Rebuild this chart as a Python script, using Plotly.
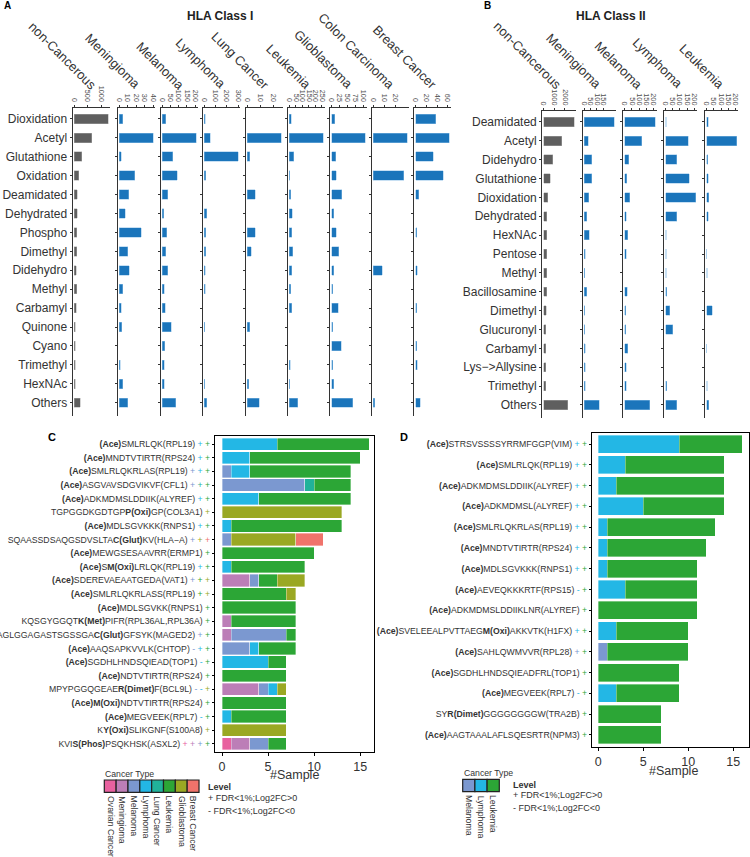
import plotly.graph_objects as go

W, H = 750, 857
FONT = "Liberation Sans, Arial, Helvetica, sans-serif"
TXT = "#333333"

# ---------------- Panel A data (HLA Class I) ----------------
A_panels = ["non-Cancerous", "Meningioma", "Melanoma", "Lymphoma", "Lung Cancer",
            "Leukemia", "Glioblastoma", "Colon Carcinoma", "Breast Cancer"]
A_mods = ["Dioxidation", "Acetyl", "Glutathione", "Oxidation", "Deamidated", "Dehydrated",
          "Phospho", "Dimethyl", "Didehydro", "Methyl", "Carbamyl", "Quinone", "Cyano",
          "Trimethyl", "HexNAc", "Others"]
A_noncancer = [1250, 640, 280, 170, 100, 110, 85, 85, 60, 90, 70, 40, 30, 35, 30, 220]
A_meningioma = [4, 40, 2, 18, 11, 7, 26, 10, 12, 4, 2, 3, 0, 1, 4, 10]
A_melanoma = [20, 205, 64, 92, 33, 7, 27, 21, 33, 10, 18, 55, 14, 10, 10, 82]
A_lymphoma = [8, 54, 300, 14, 0, 20, 11, 11, 8, 6, 0, 5, 0, 0, 5, 23]
A_lung = [0, 26, 2, 0, 6, 0, 6, 3, 0, 0, 0, 2, 0, 0, 1, 9]
A_leukemia = [15, 258, 35, 4, 10, 22, 20, 27, 17, 9, 20, 0, 0, 7, 3, 66]
A_glioblastoma = [10, 105, 12, 15, 32, 6, 15, 22, 6, 3, 21, 4, 30, 4, 6, 66]
A_colon = [0, 30, 0, 27, 0, 0, 0, 0, 8, 0, 0, 0, 0, 0, 0, 1]
A_breast = [38, 63, 33, 52, 6, 0, 2, 0, 3, 0, 2, 0, 2, 3, 0, 9]
A_ticks = [[0, 500, 1000], [0, 10, 20, 30, 40], [0, 50, 100, 150, 200], [0, 100, 200, 300],
           [0, 10, 20], [0, 50, 100, 150, 200, 250], [0, 25, 50, 75, 100], [0, 10, 20],
           [0, 20, 40, 60]]

# ---------------- Panel B data (HLA Class II) ----------------
B_panels = ["non-Cancerous", "Meningioma", "Melanoma", "Lymphoma", "Leukemia"]
B_mods = ["Deamidated", "Acetyl", "Didehydro", "Glutathione", "Dioxidation", "Dehydrated",
          "HexNAc", "Pentose", "Methyl", "Bacillosamine", "Dimethyl", "Glucuronyl",
          "Carbamyl", "Lys\u2212>Allysine", "Trimethyl", "Others"]
B_noncancer = [2870, 1690, 860, 620, 355, 300, 300, 280, 280, 260, 210, 200, 200, 190, 180, 2280]
B_meningioma = [238, 33, 59, 59, 36, 18, 38, 10, 5, 18, 5, 5, 10, 8, 10, 120]
B_melanoma = [213, 118, 27, 13, 36, 11, 20, 9, 0, 16, 7, 7, 22, 9, 9, 176]
B_lymphoma = [5, 158, 80, 164, 211, 80, 4, 4, 4, 7, 31, 49, 0, 0, 9, 78]
B_leukemia = [11, 209, 9, 13, 16, 13, 0, 2, 6, 0, 38, 0, 2, 0, 6, 16]
B_ticks = [[0, 1000, 2000], [0, 50, 100, 150], [0, 50, 100, 150, 200],
           [0, 50, 100, 150, 200], [0, 50, 100, 150, 200]]

# ---------------- Cancer type colours ----------------
CT_names = ["Ovarian Cancer", "Meningioma", "Melanoma", "Lymphoma", "Lung Cancer",
            "Leukemia", "Glioblastoma", "Breast Cancer"]
CT_colors = ["#E8619F", "#BC7EB7", "#7B98D0", "#23B7E5", "#21B29A",
             "#2CA636", "#9AA823", "#F0736B"]

# ---------------- Panel C data ----------------
C_peptides = [
    "<b>(Ace)</b>SMLRLQK(RPL19)",
    "<b>(Ace)</b>MNDTVTIRTR(RPS24)",
    "<b>(Ace)</b>SMLRLQKRLAS(RPL19)",
    "<b>(Ace)</b>ASGVAVSDGVIKVF(CFL1)",
    "<b>(Ace)</b>ADKMDMSLDDIIK(ALYREF)",
    "TGPGGDKGDTGP<b>P(Oxi)</b>GP(COL3A1)",
    "<b>(Ace)</b>MDLSGVKKK(RNPS1)",
    "SQAASSDSAQGSDVSLTA<b>C(Glut)</b>KV(HLA\u2212A)",
    "<b>(Ace)</b>MEWGSESAAVRR(ERMP1)",
    "<b>(Ace)</b>S<b>M(Oxi)</b>LRLQK(RPL19)",
    "<b>(Ace)</b>SDEREVAEAATGEDA(VAT1)",
    "<b>(Ace)</b>SMLRLQKRLASS(RPL19)",
    "<b>(Ace)</b>MDLSGVKK(RNPS1)",
    "KQSGYGGQT<b>K(Met)</b>PIFR(RPL36AL,RPL36A)",
    "AGLGGAGASTSGSSGA<b>C(Glut)</b>GFSYK(MAGED2)",
    "<b>(Ace)</b>AAQSAPKVVLK(CHTOP)",
    "<b>(Ace)</b>SGDHLHNDSQIEAD(TOP1)",
    "<b>(Ace)</b>NDTVTIRTR(RPS24)",
    "MPYPGGQGEAE<b>R(Dimet)</b>F(BCL9L)",
    "<b>(Ace)M(Oxi)</b>NDTVTIRTR(RPS24)",
    "<b>(Ace)</b>MEGVEEK(RPL7)",
    "K<b>Y(Oxi)</b>SLIKGNF(S100A8)",
    "KVI<b>S(Phos)</b>PSQKHSK(ASXL2)",
]
C_ovarian = [0, 0, 0, 0, 0, 0, 0, 0, 0, 0, 0, 0, 0, 0, 0, 0, 0, 0, 0, 0, 0, 0, 1]
C_meningioma = [0, 0, 0, 0, 0, 0, 0, 0, 0, 0, 3, 0, 0, 1, 1, 0, 0, 0, 4, 0, 0, 0, 2]
C_melanoma = [0, 0, 1, 9, 0, 0, 0, 1, 0, 0, 1, 0, 0, 0, 6, 3, 0, 0, 1, 0, 0, 0, 2]
C_lymphoma = [6, 3, 2, 0, 4, 0, 1, 0, 0, 1, 0, 0, 0, 0, 0, 1, 5, 0, 1, 0, 1, 0, 0]
C_lung = [0, 0, 0, 1, 0, 0, 0, 0, 0, 0, 0, 0, 0, 0, 0, 0, 0, 0, 0, 0, 0, 0, 0]
C_leukemia = [10, 12, 11, 4, 10, 0, 12, 0, 10, 8, 2, 7, 8, 7, 1, 4, 2, 7, 0, 7, 6, 0, 2]
C_glioblastoma = [0, 0, 0, 0, 0, 13, 0, 7, 0, 0, 3, 1, 0, 0, 0, 0, 0, 0, 1, 0, 0, 7, 0]
C_breast = [0, 0, 0, 0, 0, 0, 0, 3, 0, 0, 0, 0, 0, 0, 0, 0, 0, 0, 0, 0, 0, 0, 0]
C_levels = [
    [("Lymphoma", "+"), ("Leukemia", "+")],
    [("Lymphoma", "+"), ("Leukemia", "+")],
    [("Melanoma", "+"), ("Lymphoma", "+"), ("Leukemia", "+")],
    [("Melanoma", "+"), ("Lung Cancer", "+"), ("Leukemia", "+")],
    [("Lymphoma", "+"), ("Leukemia", "+")],
    [("Glioblastoma", "+")],
    [("Lymphoma", "+"), ("Leukemia", "+")],
    [("Melanoma", "+"), ("Glioblastoma", "+"), ("Breast Cancer", "+")],
    [("Leukemia", "+")],
    [("Lymphoma", "+"), ("Leukemia", "+")],
    [("Melanoma", "+"), ("Leukemia", "+"), ("Glioblastoma", "+")],
    [("Leukemia", "+"), ("Glioblastoma", "+")],
    [("Leukemia", "+")],
    [("Leukemia", "+")],
    [("Melanoma", "+"), ("Leukemia", "+")],
    [("Melanoma", "-"), ("Lymphoma", "+"), ("Leukemia", "+")],
    [("Lymphoma", "-"), ("Leukemia", "+")],
    [("Leukemia", "+")],
    [("Melanoma", "-"), ("Lymphoma", "-"), ("Glioblastoma", "+")],
    [("Leukemia", "+")],
    [("Lymphoma", "-"), ("Leukemia", "+")],
    [("Glioblastoma", "+")],
    [("Ovarian Cancer", "+"), ("Meningioma", "+"), ("Melanoma", "+"), ("Leukemia", "+")],
]

# ---------------- Panel D data ----------------
D_peptides = [
    "<b>(Ace)</b>STRSVSSSSYRRMFGGP(VIM)",
    "<b>(Ace)</b>SMLRLQK(RPL19)",
    "<b>(Ace)</b>ADKMDMSLDDIIK(ALYREF)",
    "<b>(Ace)</b>ADKMDMSL(ALYREF)",
    "<b>(Ace)</b>SMLRLQKRLAS(RPL19)",
    "<b>(Ace)</b>MNDTVTIRTR(RPS24)",
    "<b>(Ace)</b>MDLSGVKKK(RNPS1)",
    "<b>(Ace)</b>AEVEQKKKRTF(RPS15)",
    "<b>(Ace)</b>ADKMDMSLDDIIKLNR(ALYREF)",
    "<b>(Ace)</b>SVELEEALPVTTAEG<b>M(Oxi)</b>AKKVTK(H1FX)",
    "<b>(Ace)</b>SAHLQWMVVR(RPL28)",
    "<b>(Ace)</b>SGDHLHNDSQIEADFRL(TOP1)",
    "<b>(Ace)</b>MEGVEEK(RPL7)",
    "SY<b>R(Dimet)</b>GGGGGGGGW(TRA2B)",
    "<b>(Ace)</b>AAGTAAALAFLSQESRTR(NPM3)",
]
D_types = ["Melanoma", "Lymphoma", "Leukemia"]
D_melanoma = [0, 0, 0, 0, 0, 0, 0, 0, 0, 0, 1, 0, 0, 0, 0]
D_lymphoma = [9, 3, 2, 5, 1, 1, 1, 3, 0, 2, 0, 0, 2, 0, 0]
D_leukemia = [7, 11, 12, 9, 12, 11, 10, 8, 11, 8, 9, 9, 7, 7, 7]
D_levels = [
    [("Lymphoma", "+"), ("Leukemia", "+")],
    [("Lymphoma", "+"), ("Leukemia", "+")],
    [("Lymphoma", "+"), ("Leukemia", "+")],
    [("Lymphoma", "+"), ("Leukemia", "+")],
    [("Lymphoma", "+"), ("Leukemia", "+")],
    [("Lymphoma", "+"), ("Leukemia", "+")],
    [("Lymphoma", "+"), ("Leukemia", "+")],
    [("Lymphoma", "-"), ("Leukemia", "+")],
    [("Leukemia", "+")],
    [("Lymphoma", "+"), ("Leukemia", "+")],
    [("Melanoma", "+"), ("Leukemia", "+")],
    [("Leukemia", "+")],
    [("Lymphoma", "-"), ("Leukemia", "+")],
    [("Leukemia", "+")],
    [("Leukemia", "+")],
]

# ---------------- styling ----------------
BLUE = "#1B75BB"
GREY = "#5F5F5F"
color_of = dict(zip(CT_names, CT_colors))

fig = go.Figure()
lay = dict(template="none", width=W, height=H,
           margin=dict(l=0, r=0, t=0, b=0, pad=0, autoexpand=False),
           paper_bgcolor="white", plot_bgcolor="rgba(0,0,0,0)",
           showlegend=False, barmode="stack",
           font=dict(family=FONT, color=TXT))
annotations = []
shapes = []
count = [0]


def new_axes(x0, x1, ytop, ybot, xkw, ykw):
    count[0] += 1
    k = count[0]
    s = "" if k == 1 else str(k)
    lay["xaxis" + s] = dict(domain=[x0 / W, x1 / W], anchor="y" + s, automargin=False, **xkw)
    lay["yaxis" + s] = dict(domain=[1 - ybot / H, 1 - ytop / H], anchor="x" + s,
                            automargin=False, **ykw)
    return "x" + s, "y" + s


def nz(vals):
    return [v if v > 0 else None for v in vals]


def ann(x, y, text, size, **kw):
    d = dict(x=x / W, y=1 - y / H, xref="paper", yref="paper", text=text,
             showarrow=False, xanchor="center", yanchor="middle",
             font=dict(size=size, color=kw.pop("color", TXT), family=FONT))
    d.update(kw)
    annotations.append(d)


def small_multiples(panels, mods, vals_list, ticks_list, lefts, width, ytop, ybot, yrange, name_dx):
    for i, (name, vals, ticks) in enumerate(zip(panels, vals_list, ticks_list)):
        M = max(vals)
        x0 = lefts[i]
        xa, ya = new_axes(
            x0, x0 + width, ytop, ybot,
            dict(range=[-0.05 * M, 1.05 * M], side="top", showline=True, linecolor="#333",
                 linewidth=1, ticks="outside", ticklen=2, tickcolor="#333", tickvals=ticks,
                 tickangle=90, tickfont=dict(size=7.3, color="#4d4d4d"), showgrid=False,
                 zeroline=False),
            dict(type="category", categoryorder="array", categoryarray=mods, range=yrange,
                 showline=True, linecolor="#333", linewidth=1.3, ticks="outside", ticklen=2,
                 tickcolor="#333", showticklabels=(i == 0), tickfont=dict(size=12, color=TXT),
                 showgrid=False, zeroline=False))
        col = GREY if i == 0 else BLUE
        edge = "rgba(170,170,170,0.6)" if i == 0 else "rgba(140,190,230,0.6)"
        fig.add_trace(go.Bar(x=nz(vals), y=mods, orientation="h", width=0.5,
                             marker=dict(color=col, line=dict(color=edge, width=0.8)),
                             xaxis=xa, yaxis=ya, hoverinfo="skip"))
        ann(x0 + name_dx, 95, name, 13, textangle=45, xanchor="right", yanchor="bottom")


# Panel A
small_multiples(A_panels, A_mods,
                [A_noncancer, A_meningioma, A_melanoma, A_lymphoma, A_lung, A_leukemia,
                 A_glioblastoma, A_colon, A_breast],
                A_ticks, [72.7, 117.7, 160.7, 202.7, 245.7, 287.7, 330.0, 371.7, 414.0], 37,
                107.5, 416, [15.7, -0.6], 29)
# Panel B
small_multiples(B_panels, B_mods,
                [B_noncancer, B_meningioma, B_melanoma, B_lymphoma, B_leukemia],
                B_ticks, [542.3, 582.7, 623.3, 664.0, 705.0], 33.3,
                111, 418, [15.69, -0.58], 25)


def level_text(label, levels):
    signs = " ".join('<span style="color:%s">%s</span>' % (color_of[t], s) for t, s in levels)
    return label + " " + signs


def stacked_panel(peptides, series, types, levels, x0, x1, ytop, ybot, xrange, yrange,
                  fsize, width):
    xa, ya = new_axes(
        x0, x1, ytop, ybot,
        dict(range=xrange, showline=True, mirror=True, linecolor="black", linewidth=1.3,
             ticks="outside", ticklen=3, tickcolor="black", tickvals=[0, 5, 10, 15],
             tickfont=dict(size=12.5, color=TXT), showgrid=False, zeroline=False),
        dict(type="category", categoryorder="array", categoryarray=peptides, range=yrange,
             showline=True, mirror=True, linecolor="black", linewidth=1.3, ticks="outside",
             ticklen=2, tickcolor="black", tickvals=peptides,
             ticktext=[level_text(p, l) for p, l in zip(peptides, levels)],
             tickfont=dict(size=fsize, color=TXT), showgrid=False, zeroline=False))
    for t, vals in zip(types, series):
        fig.add_trace(go.Bar(x=nz(vals), y=peptides, orientation="h", width=width,
                             marker=dict(color=color_of[t],
                                         line=dict(color="rgba(255,255,255,0.45)", width=0.8)),
                             xaxis=xa, yaxis=ya, hoverinfo="skip", name=t))


# Panel C
stacked_panel(C_peptides,
              [C_ovarian, C_meningioma, C_melanoma, C_lymphoma, C_lung, C_leukemia,
               C_glioblastoma, C_breast],
              CT_names, C_levels, 215, 374, 436, 752, [-0.76, 16.5], [22.6, -0.6], 8.7, 0.9)
# Panel D
stacked_panel(D_peptides, [D_melanoma, D_lymphoma, D_leukemia], D_types, D_levels,
              592, 749, 432.7, 747.3, [-0.7, 16.75], [14.6, -0.55], 8.7, 0.87)

# axis titles
ann(294, 775, "#Sample", 12.5)
ann(673, 771, "#Sample", 12.5)

# titles and panel letters
ann(220, 16, "<b>HLA Class I</b>", 12, color="#222")
ann(611, 16, "<b>HLA Class II</b>", 12, color="#222")
ann(7, 6, "<b>A</b>", 10, color="black")
ann(487, 6, "<b>B</b>", 10, color="black")
ann(52, 437, "<b>C</b>", 11, color="black")
ann(404, 437, "<b>D</b>", 11, color="black")


# legends
def legend(names, left, box_w, top, bottom, title_y, lvl_x, lvl_y, plus_y, minus_y):
    ann(left - 1, title_y, "Cancer Type", 8.7, xanchor="left")
    for i, nm in enumerate(names):
        xl = left + i * box_w
        shapes.append(dict(type="rect", xref="paper", yref="paper",
                           x0=xl / W, x1=(xl + box_w) / W, y0=1 - bottom / H, y1=1 - top / H,
                           fillcolor=color_of[nm], line=dict(color="#222", width=1.2)))
        ann(xl + box_w / 2, bottom + 1.5, nm, 8.7, textangle=90, xanchor="center",
            yanchor="top")
    ann(lvl_x, lvl_y, "<b>Level</b>", 9, xanchor="left")
    ann(lvl_x, plus_y, "+ FDR&lt;1%;Log2FC&gt;0", 9, xanchor="left")
    ann(lvl_x, minus_y, "- FDR&lt;1%;Log2FC&lt;0", 9, xanchor="left")


legend(CT_names, 104.3, 11.84, 780, 792.3, 774, 206, 787, 797.7, 810.7)
legend(D_types, 462.7, 12.2, 779.3, 791.7, 772.7, 511, 785, 795, 807.7)

lay["annotations"] = annotations
lay["shapes"] = shapes
fig.update_layout(**lay)
fig.write_html("out.html",
               config={"displayModeBar": False},
               post_script="document.body.style.margin='0px';"
                           "document.body.style.padding='0px';"
                           "document.body.style.overflow='hidden';")
